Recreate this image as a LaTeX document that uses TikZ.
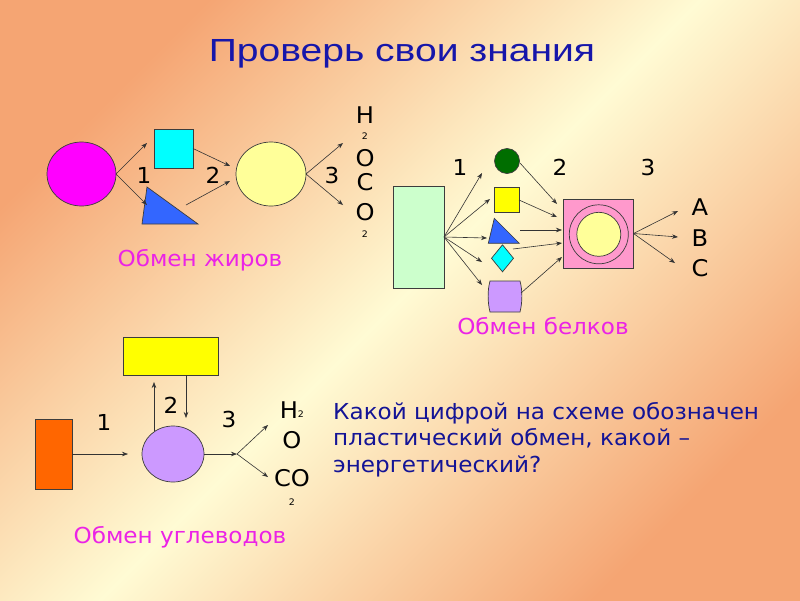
\documentclass[tikz,border=0pt]{standalone}
\usepackage{fontspec}
\setmainfont{Liberation Sans}
\newfontfamily\ttlfont[FakeStretch=1.22]{Liberation Sans}
\newfontfamily\tah[FakeStretch=1.05]{DejaVu Sans}
\usetikzlibrary{shapes.geometric,arrows.meta}
\definecolor{bgo}{RGB}{245,165,115}
\definecolor{bgl}{RGB}{255,251,212}
\definecolor{ttl}{RGB}{22,22,170}
\definecolor{qtx}{RGB}{20,20,150}
\definecolor{mag}{RGB}{235,35,230}
\definecolor{edge}{RGB}{60,60,60}
\definecolor{fmag}{RGB}{255,0,255}
\definecolor{fcyan}{RGB}{0,255,255}
\definecolor{fyel}{RGB}{255,255,0}
\definecolor{lyel}{RGB}{255,255,153}
\definecolor{tblue}{RGB}{51,102,255}
\definecolor{lgreen}{RGB}{204,255,204}
\definecolor{dgreen}{RGB}{0,110,0}
\definecolor{lpurp}{RGB}{204,153,255}
\definecolor{lpink}{RGB}{255,153,204}
\definecolor{orng}{RGB}{255,102,0}
\tikzset{
  shp/.style={draw=edge, line width=0.7pt, inner sep=0pt, outer sep=0pt},
  ell/.style={shp, ellipse},
  box/.style={shp, rectangle},
  arr/.style={draw=black!80, line width=0.6pt, -{Stealth[length=6pt,width=4.5pt]}},
  num/.style={inner sep=0pt, text height=16pt, text depth=0pt, font=\tah\fontsize{22}{26}\selectfont},
  chem/.style={inner sep=0pt, text height=16.5pt, text depth=0pt, font=\tah\fontsize{23}{26}\selectfont},
  sub/.style={inner sep=0pt, text height=6.5pt, text depth=0pt, font=\tah\fontsize{9}{10}\selectfont},
  caplbl/.style={inner sep=0pt, anchor=base, text=mag, font=\tah\fontsize{22}{26}\selectfont},
  qline/.style={inner sep=0pt, anchor=base west, text=qtx, font=\tah\fontsize{22}{26}\selectfont}
}
\begin{document}
\begin{tikzpicture}[x=1pt,y=-1pt]
\useasboundingbox (0,0) rectangle (800,600);
\shade[top color=bgo, bottom color=bgo, middle color=bgl, shading angle=45] (0,0) rectangle (800,600);

% title
\node[inner sep=0pt, anchor=base, text=ttl, font=\ttlfont\fontsize{32}{36}\selectfont] (title) at (402,61.7) {Проверь свои знания};

% ---------- fats ----------
\node[ell, fill=fmag, minimum width=69pt, minimum height=64pt] (f1) at (81.5,174) {};
\node[box, fill=fcyan, minimum width=39pt, minimum height=39pt] (f2) at (173.5,148.5) {};
\filldraw[fill=tblue, draw=edge, line width=0.7pt] (147,187) -- (142,224) -- (198,224) -- cycle;
\coordinate (ftri) at (186,205);
\node[ell, fill=lyel, minimum width=70pt, minimum height=64pt] (f3) at (271,174) {};
\coordinate (f1a) at (147,143);
\coordinate (f1b) at (147,205);
\coordinate (f3a) at (230,166);
\coordinate (f3b) at (230,181);
\coordinate (fo1) at (343,143);
\coordinate (fo2) at (343,205);
\draw[arr] (f1.east) -- (f1a);
\draw[arr] (f1.east) -- (f1b);
\draw[arr] (f2.east) -- (f3a);
\draw[arr] (ftri) -- (f3b);
\draw[arr] (f3.east) -- (fo1);
\draw[arr] (f3.east) -- (fo2);
\node[num] (fn1) at (144,175) {1};
\node[num] (fn2) at (213,175) {2};
\node[num] (fn3) at (332,175) {3};
\node[chem] (fH) at (365,115) {H};
\node[sub] (fs1) at (365,136) {2};
\node[chem] (fO1) at (365,158) {O};
\node[chem] (fC) at (365,182) {C};
\node[chem] (fO2) at (365,212) {O};
\node[sub] (fs2) at (365,234) {2};
\node[caplbl] (fcap) at (200,266.7) {Обмен жиров};

% ---------- proteins ----------
\node[box, fill=lgreen, minimum width=51pt, minimum height=102pt] (p0) at (418.5,237) {};
\node[shp, circle, fill=dgreen, minimum size=25pt] (pc) at (507,161) {};
\node[box, fill=fyel, minimum width=25pt, minimum height=25pt] (ps) at (506.5,199.5) {};
\filldraw[fill=tblue, draw=edge, line width=0.7pt] (494.3,218.3) -- (488.3,243.3) -- (519.3,243.3) -- cycle;
\coordinate (ptri) at (520,230);
\node[shp, diamond, fill=fcyan, minimum width=22pt, minimum height=27pt] (pd) at (502.5,258.3) {};
\filldraw[fill=lpurp, draw=edge, line width=0.7pt] (490,281) -- (520,281) .. controls (522.5,290) and (522.5,302) .. (520,312) -- (490,312) .. controls (487.5,302) and (487.5,290) .. (490,281) -- cycle;
\coordinate (pv) at (521,293);
\node[box, fill=lpink, minimum width=70pt, minimum height=69pt] (pp) at (598.5,233.5) {};
\node[shp, circle, minimum size=59pt] (pr) at (598.8,234.3) {};
\node[shp, circle, fill=lyel, minimum size=44pt] (py) at (598.8,234.3) {};
\coordinate (pa1) at (482,173);
\coordinate (pa2) at (490,199);
\coordinate (pa3) at (487,238);
\coordinate (pa4) at (482,262);
\coordinate (pa5) at (482,285);
\draw[arr] (p0.east) -- (pa1);
\draw[arr] (p0.east) -- (pa2);
\draw[arr] (p0.east) -- (pa3);
\draw[arr] (p0.east) -- (pa4);
\draw[arr] (p0.east) -- (pa5);
\coordinate (pb1) at (557,204);
\coordinate (pb2) at (557,217);
\coordinate (pb3) at (562,230);
\coordinate (pb4) at (562,243);
\coordinate (pb5) at (562,257);
\coordinate (pcs) at (520,163);
\coordinate (pss) at (519,200);
\coordinate (pds) at (513,249);
\draw[arr] (pcs) -- (pb1);
\draw[arr] (pss) -- (pb2);
\draw[arr] (ptri) -- (pb3);
\draw[arr] (pds) -- (pb4);
\draw[arr] (pv) -- (pb5);
\coordinate (po1) at (678,211);
\coordinate (po2) at (678,237);
\coordinate (po3) at (675,263);
\draw[arr] (pp.east) -- (po1);
\draw[arr] (pp.east) -- (po2);
\draw[arr] (pp.east) -- (po3);
\node[num] (pn1) at (460,167) {1};
\node[num] (pn2) at (560,167) {2};
\node[num] (pn3) at (648,167) {3};
\node[chem] (pA) at (700,207) {A};
\node[chem] (pB) at (700,238) {B};
\node[chem] (pC) at (700,268) {C};
\node[caplbl] (pcap) at (543,334) {Обмен белков};

% ---------- carbohydrates ----------
\node[box, fill=orng, minimum width=37pt, minimum height=70pt] (c0) at (53.5,454) {};
\node[box, fill=fyel, minimum width=95pt, minimum height=38pt] (c1) at (170.5,356) {};
\node[ell, fill=lpurp, minimum width=62pt, minimum height=56pt] (c2) at (173,454) {};
\coordinate (c2in) at (128,454);
\draw[arr] (c0.east) -- (c2in);
\coordinate (cup0) at (154,431);
\coordinate (cup1) at (154,382);
\draw[arr] (cup0) -- (cup1);
\coordinate (cdn0) at (186,375);
\coordinate (cdn1) at (186,418);
\draw[arr] (cdn0) -- (cdn1);
\coordinate (cj) at (237,454);
\coordinate (ce1) at (268,425);
\coordinate (ce2) at (268,477);
\draw[arr] (c2.east) -- (cj);
\draw[arr] (cj) -- (ce1);
\draw[arr] (cj) -- (ce2);
\node[num] (cn1) at (104,422) {1};
\node[num] (cn2) at (171,405) {2};
\node[num] (cn3) at (229,419) {3};
\node[chem] (cH) at (289,410) {H};
\node[sub] (cs1) at (301,414) {2};
\node[chem] (cO) at (292,440) {O};
\node[chem] (cCO) at (292,478) {CO};
\node[sub] (cs2) at (292,502) {2};
\node[caplbl] (ccap) at (180,543) {Обмен углеводов};

% ---------- question ----------
\node[qline] (q1) at (333,419.3) {Какой цифрой на схеме обозначен};
\node[qline] (q2) at (333,445.5) {пластический обмен, какой –};
\node[qline] (q3) at (333,472) {энергетический?};
\end{tikzpicture}
\end{document}
